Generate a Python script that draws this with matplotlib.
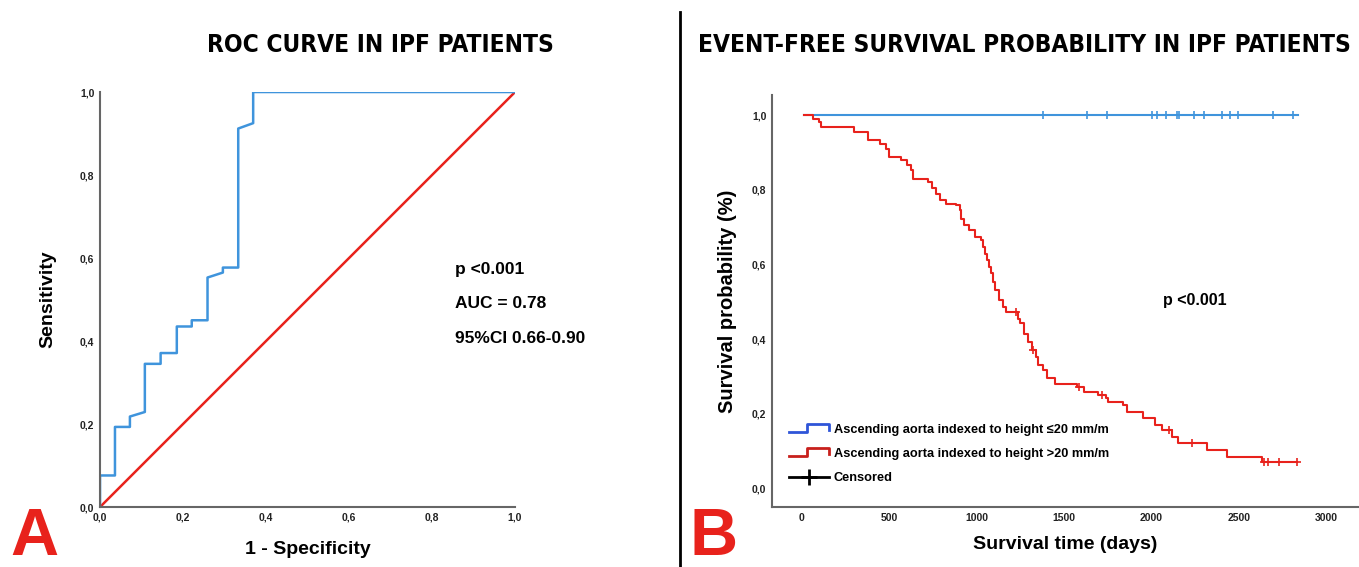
import numpy as np
import matplotlib
matplotlib.use("Agg")
import matplotlib.pyplot as plt
from matplotlib.lines import Line2D
from matplotlib.legend_handler import HandlerBase
from matplotlib.ticker import FuncFormatter
from matplotlib import font_manager

plt.rcParams['font.family'] = ['Liberation Sans', 'DejaVu Sans']

# ROC curve (1 - specificity, sensitivity)
roc_fpr = [0, 0, 0.036, 0.036, 0.072, 0.072, 0.108, 0.108, 0.146, 0.146, 0.185, 0.185,
           0.221, 0.221, 0.259, 0.259, 0.296, 0.296, 0.333, 0.333, 0.369, 0.369, 1.0]
roc_tpr = [0, 0.076, 0.076, 0.193, 0.193, 0.218, 0.229, 0.345, 0.345, 0.371, 0.371, 0.435,
           0.435, 0.450, 0.450, 0.553, 0.565, 0.577, 0.577, 0.912, 0.925, 1.0, 1.0]
roc_stats = ["p <0.001", "AUC = 0.78", "95%CI 0.66-0.90"]

# Kaplan-Meier, aortic index > 20 mm/m
red_t = [11, 67, 100, 111, 301, 379, 446, 480, 502, 569, 602, 625, 636, 725, 747, 770,
         792, 825, 881, 903, 914, 926, 959, 993, 1026, 1037, 1048, 1059, 1071, 1082, 1093,
         1104, 1126, 1149, 1171, 1238, 1249, 1271, 1294, 1316, 1338, 1349, 1383, 1405,
         1450, 1573, 1617, 1695, 1740, 1751, 1840, 1862, 1952, 2019, 2063, 2119, 2152,
         2320, 2431, 2632, 2833]
red_s = [1.0, 0.991, 0.982, 0.970, 0.955, 0.933, 0.924, 0.911, 0.888, 0.879, 0.866, 0.853,
         0.830, 0.821, 0.804, 0.790, 0.772, 0.763, 0.759, 0.746, 0.723, 0.705, 0.692, 0.674,
         0.665, 0.647, 0.629, 0.612, 0.594, 0.576, 0.554, 0.531, 0.504, 0.487, 0.473, 0.455,
         0.442, 0.415, 0.393, 0.371, 0.353, 0.330, 0.317, 0.295, 0.281, 0.272, 0.259, 0.250,
         0.241, 0.232, 0.223, 0.205, 0.188, 0.170, 0.156, 0.138, 0.121, 0.103, 0.085, 0.071,
         0.071]
red_censor = [1227, 1323, 1584, 1717, 2101, 2230, 2643, 2665, 2732, 2833]

# Kaplan-Meier, aortic index <= 20 mm/m (no events)
blue_t = [11, 2840]
blue_s = [1.0, 1.0]
blue_censor = [1378, 1633, 1744, 2003, 2030, 2086, 2146, 2159, 2242, 2302, 2402, 2449,
               2494, 2694, 2810]

legend_labels = ["Ascending aorta indexed to height \u226420 mm/m",
                 "Ascending aorta indexed to height >20 mm/m",
                 "Censored"]

RED = "#e8221c"
BLUE = "#3f94dc"
comma = FuncFormatter(lambda v, p: f"{v:.1f}".replace(".", ","))


class StepHandler(HandlerBase):
    def create_artists(self, legend, orig_handle, xdescent, ydescent, width, height,
                       fontsize, trans):
        x = np.array([0, 0.45, 0.45, 1.0, 1.0]) * width - xdescent
        y = np.array([0.05, 0.05, 0.95, 0.95, 0.35]) * height - ydescent
        return [Line2D(x, y, color=orig_handle.get_color(), lw=2, transform=trans)]


def style(ax):
    for s in ["top", "right"]:
        ax.spines[s].set_visible(False)
    for s in ["left", "bottom"]:
        ax.spines[s].set_color("#666666")
        ax.spines[s].set_linewidth(1.5)
    ax.tick_params(length=0, labelsize=7.5, colors="#222222", pad=4)
    for lab in ax.get_xticklabels() + ax.get_yticklabels():
        lab.set_fontweight("bold")


# narrow bold face for the two titles, if DejaVu's condensed cut is installed
has_cond = any(f.name == "DejaVu Sans" and f.stretch == "condensed"
               for f in font_manager.fontManager.ttflist)
tsize = 17.6 if has_cond else 15.2
tkw = dict(family="DejaVu Sans", fontsize=tsize, fontweight="bold", ha="center",
           va="center", fontstretch="condensed" if has_cond else "normal")

fig = plt.figure(figsize=(13.59, 5.67), dpi=100)

# ---- A: ROC ----
ax1 = fig.add_axes([0.0736, 0.1058, 0.3054, 0.7319])
ax1.plot([0, 1], [0, 1], color=RED, lw=1.8)
ax1.plot(roc_fpr, roc_tpr, color=BLUE, lw=1.8)
ax1.set_xlim(0, 1)
ax1.set_ylim(0, 1)
ax1.set_xticks(np.arange(0, 1.01, 0.2))
ax1.set_yticks(np.arange(0, 1.01, 0.2))
ax1.xaxis.set_major_formatter(comma)
ax1.yaxis.set_major_formatter(comma)
style(ax1)
ax1.set_xlabel("1 - Specificity", fontsize=14, fontweight="bold", labelpad=13)
ax1.set_ylabel("Sensitivity", fontsize=14, fontweight="bold", labelpad=17)
for i, txt in enumerate(roc_stats):
    ax1.text(0.855, 0.573 - i * 0.083, txt, fontsize=12.5, fontweight="bold",
             transform=ax1.transAxes, va="center")

# ---- B: Kaplan-Meier ----
ax2 = fig.add_axes([0.568, 0.1058, 0.431, 0.727])
ax2.step(blue_t, blue_s, where="post", color=BLUE, lw=1.5)
ax2.step(red_t, red_s, where="post", color=RED, lw=1.5)
ax2.plot(blue_censor, np.ones(len(blue_censor)), "+", color=BLUE, ms=6, mew=1.2)
idx = np.searchsorted(red_t, red_censor, side="right") - 1
ax2.plot(red_censor, np.array(red_s)[idx], "+", color=RED, ms=6, mew=1.2)
ax2.set_xlim(-170, 3180)
ax2.set_ylim(-0.05, 1.055)
ax2.set_xticks(np.arange(0, 3001, 500))
ax2.set_yticks(np.arange(0, 1.01, 0.2))
ax2.yaxis.set_major_formatter(comma)
style(ax2)
ax2.set_xlabel("Survival time (days)", fontsize=14, fontweight="bold", labelpad=10)
ax2.set_ylabel("Survival probability (%)", fontsize=14.5, fontweight="bold", labelpad=11)
ax2.text(0.667, 0.5, "p <0.001", fontsize=11.5, fontweight="bold",
         transform=ax2.transAxes, va="center")

handles = [Line2D([], [], color="#2f55d8"), Line2D([], [], color="#c8201c"),
           Line2D([], [], color="black", marker="+", ms=12, mew=2, lw=2)]
ax2.legend(handles, legend_labels, loc="upper left", bbox_to_anchor=(0.01, 0.23),
           frameon=False, prop={"size": 9.2, "weight": "bold"}, labelspacing=0.95,
           handlelength=3.1, handletextpad=0.4,
           handler_map={handles[0]: StepHandler(), handles[1]: StepHandler()})

# titles, panel letters, divider
fig.text(380 / 1359, 1 - 45 / 567, "ROC CURVE IN IPF PATIENTS", **tkw)
fig.text(1024 / 1359, 1 - 45 / 567, "EVENT-FREE SURVIVAL PROBABILITY IN IPF PATIENTS",
         **tkw)
fig.text(10 / 1359, 1 - 555 / 567, "A", color=RED, fontsize=48, fontweight="bold")
fig.text(690 / 1359, 1 - 555 / 567, "B", color=RED, fontsize=48, fontweight="bold")
fig.add_artist(Line2D([680 / 1359, 680 / 1359], [0, 1 - 12 / 567], color="black",
                      lw=2, transform=fig.transFigure))

fig.savefig("out.png", dpi=100)
